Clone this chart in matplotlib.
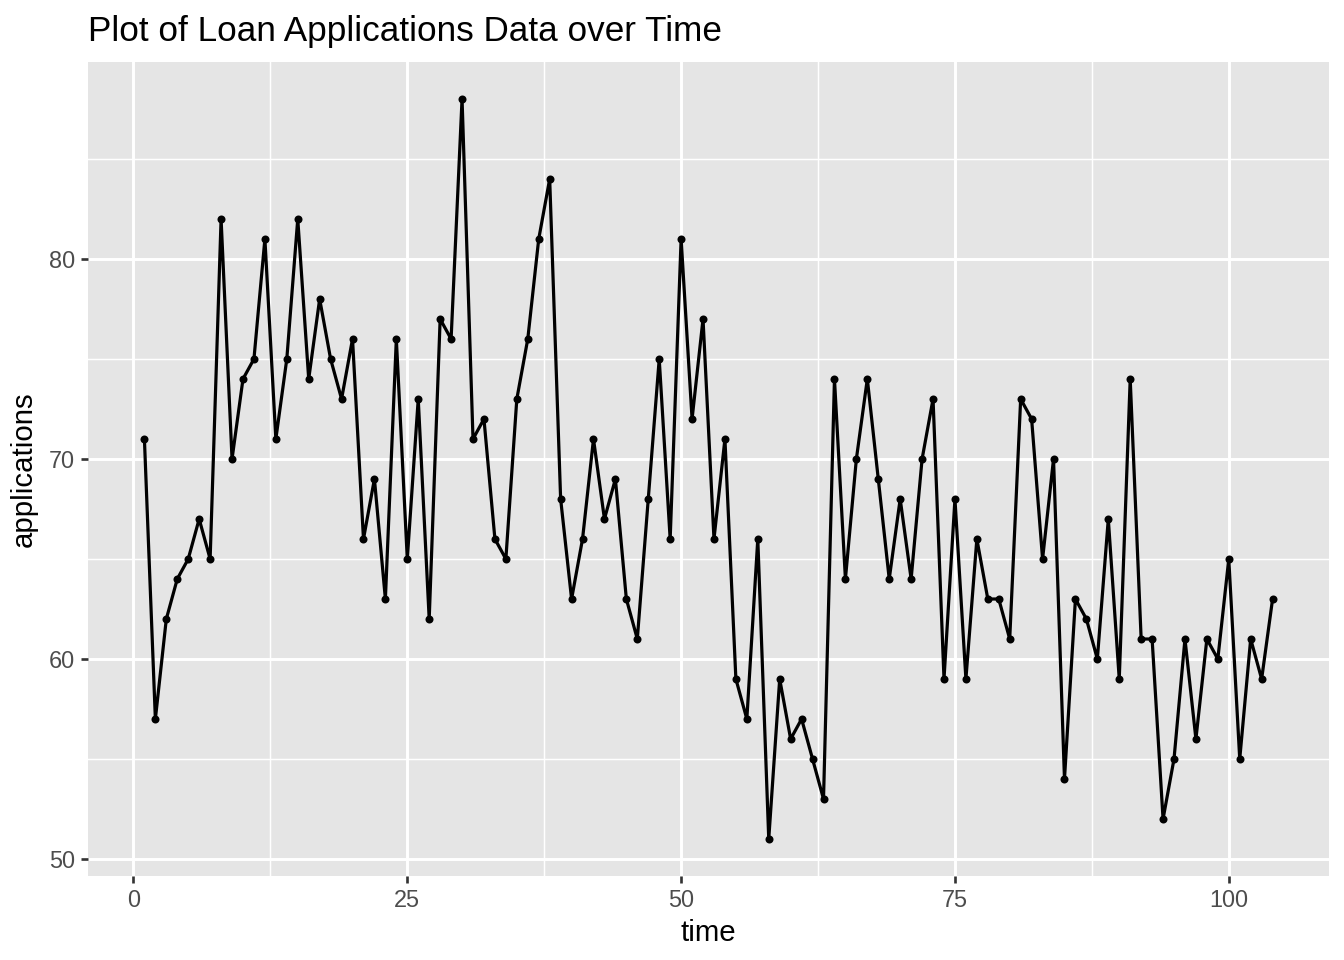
import matplotlib
matplotlib.use('Agg')
import matplotlib.pyplot as plt
from matplotlib.ticker import MultipleLocator

# Loan applications per time period
time = list(range(1, 105))
applications = [
    71, 57, 62, 64, 65, 67, 65, 82, 70, 74,
    75, 81, 71, 75, 82, 74, 78, 75, 73, 76,
    66, 69, 63, 76, 65, 73, 62, 77, 76, 88,
    71, 72, 66, 65, 73, 76, 81, 84, 68, 63,
    66, 71, 67, 69, 63, 61, 68, 75, 66, 81,
    72, 77, 66, 71, 59, 57, 66, 51, 59, 56,
    57, 55, 53, 74, 64, 70, 74, 69, 64, 68,
    64, 70, 73, 59, 68, 59, 66, 63, 63, 61,
    73, 72, 65, 70, 54, 63, 62, 60, 67, 59,
    74, 61, 61, 52, 55, 61, 56, 61, 60, 65,
    55, 61, 59, 63,
]

plt.rcParams['font.family'] = ['Liberation Sans', 'DejaVu Sans']

fig = plt.figure(figsize=(7, 5), dpi=192)
ax = fig.add_axes([88 / 1344, 1 - 876 / 960, (1329 - 88) / 1344, (876 - 62) / 960])

# ggplot-like grey panel
ax.set_facecolor('#E5E5E5')
for s in ax.spines.values():
    s.set_visible(False)

ax.plot(time, applications, color='black', linewidth=1.2, zorder=3)
ax.plot(time, applications, 'o', color='black', markersize=2.0, zorder=4)

# 5% expansion on each side like ggplot
xr = max(time) - min(time)
yr = max(applications) - min(applications)
ax.set_xlim(min(time) - 0.05 * xr, max(time) + 0.05 * xr)
ax.set_ylim(min(applications) - 0.05 * yr, max(applications) + 0.05 * yr)

ax.xaxis.set_major_locator(MultipleLocator(25))
ax.xaxis.set_minor_locator(MultipleLocator(12.5))
ax.yaxis.set_major_locator(MultipleLocator(10))
ax.yaxis.set_minor_locator(MultipleLocator(5))

ax.grid(which='major', color='white', linewidth=1.1)
ax.grid(which='minor', color='white', linewidth=0.55)
ax.set_axisbelow(True)

ax.tick_params(which='major', length=2.75, width=1.0, color='#333333',
               labelsize=8.8, labelcolor='#4D4D4D', pad=2.2)
ax.tick_params(which='minor', length=0)

ax.set_xlabel('time', fontsize=11, labelpad=2.5)
ax.set_ylabel('applications', fontsize=11, labelpad=4)
ax.set_title('Plot of Loan Applications Data over Time', fontsize=13.2,
             loc='left', pad=8)

fig.savefig('out.png', dpi=192)
